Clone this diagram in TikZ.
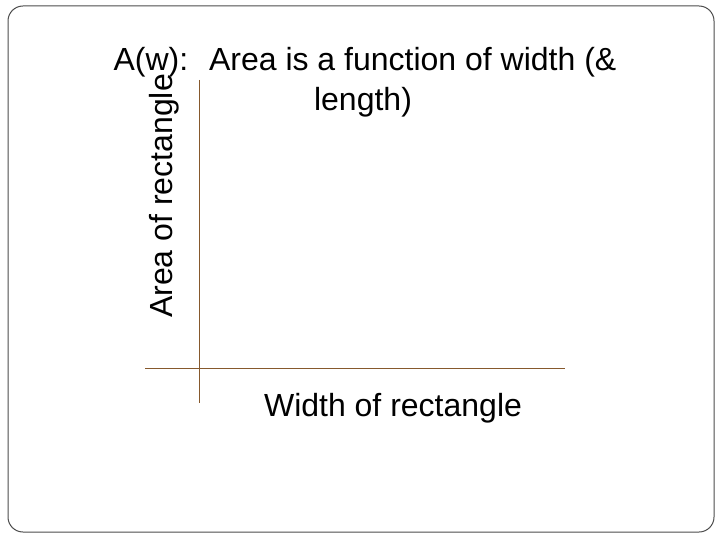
\documentclass[tikz,border=0pt]{standalone}
\usepackage{fontspec}
\setmainfont{Liberation Sans}
\begin{document}
\begin{tikzpicture}[x=1pt,y=-1pt,
  axis/.style={draw=brown!70!black, line width=0.8pt},
  lbl/.style={inner sep=0pt, font=\fontsize{32}{36}\selectfont}]
\useasboundingbox (0,0) rectangle (720,540);
\draw[rounded corners=15pt, draw=black!70, line width=1pt] (8,6) rectangle (714,532);
\node[lbl] (t1) at (365,62) {A(w): \ Area is a function of width (\&};
\node[lbl] (t2) at (363,102) {length)};
\coordinate (ytop) at (199,80);
\coordinate (ybot) at (199,403);
\coordinate (xl) at (145,368);
\coordinate (xr) at (565,368);
\draw[axis] (ytop) -- (ybot);
\draw[axis] (xl) -- (xr);
\node[lbl, rotate=90] (yl) at (164,196) {Area of rectangle};
\node[lbl] (xlab) at (393,408) {Width of rectangle};
\end{tikzpicture}
\end{document}
